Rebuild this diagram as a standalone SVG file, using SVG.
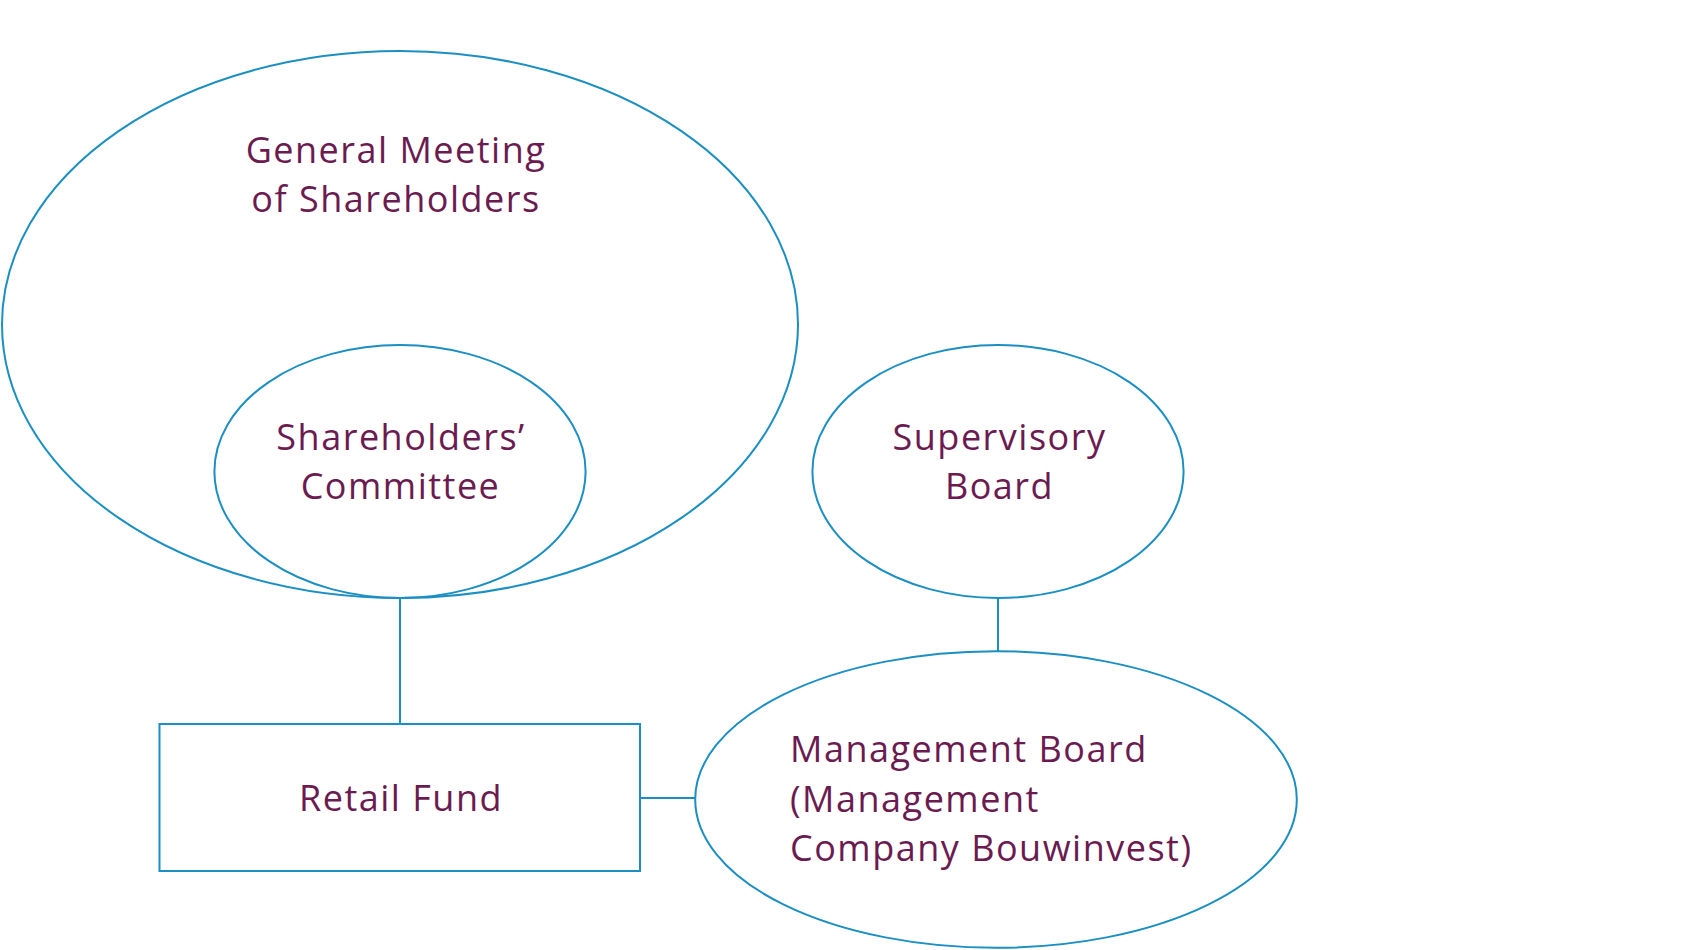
<svg xmlns="http://www.w3.org/2000/svg" width="1700" height="950" viewBox="0 0 1700 950">
<style>
.shape{fill:none;stroke:#1b8fc2;stroke-width:2}
.conn{stroke:#1b8fc2;stroke-width:2;fill:none}
.lbl{font-family:"Open Sans","Noto Sans","DejaVu Sans",sans-serif;font-size:36px;fill:#6b1b50;letter-spacing:1.5px}
.c{text-anchor:middle}
</style>
<rect width="1700" height="950" fill="#ffffff"/>
<g id="connectors">
<line class="conn" x1="400" y1="598" x2="400" y2="724"/>
<line class="conn" x1="998" y1="598" x2="998" y2="651"/>
<line class="conn" x1="640" y1="798" x2="695" y2="798"/>
</g>
<g id="general-meeting">
<ellipse class="shape" cx="400" cy="324.5" rx="398" ry="273.5"/>
<text class="lbl c" x="396" y="163">General Meeting</text>
<text class="lbl c" x="396" y="212">of Shareholders</text>
</g>
<g id="shareholders-committee">
<ellipse class="shape" cx="400" cy="471.5" rx="185.6" ry="126.5"/>
<text class="lbl c" x="401" y="450">Shareholders’</text>
<text class="lbl c" x="400.5" y="499">Committee</text>
</g>
<g id="supervisory-board">
<ellipse class="shape" cx="998" cy="471.5" rx="185.6" ry="126.5"/>
<text class="lbl c" x="999.5" y="450">Supervisory</text>
<text class="lbl c" x="999.5" y="499">Board</text>
</g>
<g id="retail-fund">
<rect class="shape" x="159.5" y="724" width="480.5" height="147"/>
<text class="lbl c" x="401" y="811">Retail Fund</text>
</g>
<g id="management-board">
<ellipse class="shape" cx="996" cy="799.5" rx="300.8" ry="148.3"/>
<text class="lbl" x="790" y="761.5">Management Board</text>
<text class="lbl" x="790" y="811.5">(Management</text>
<text class="lbl" x="790" y="861">Company Bouwinvest)</text>
</g>
</svg>
